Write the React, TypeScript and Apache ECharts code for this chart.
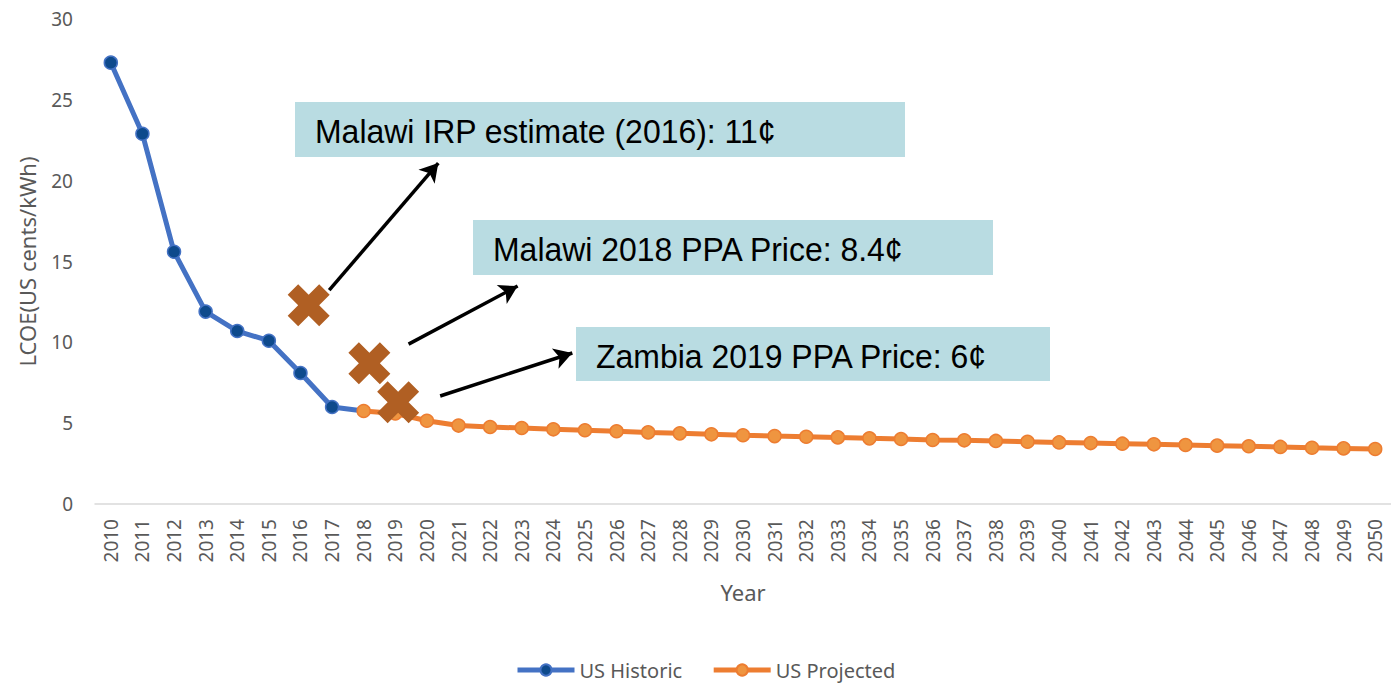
import React, { useEffect, useRef } from "react";
import * as echarts from "echarts";

const years: string[] = [];
for (let y = 2010; y <= 2050; y++) years.push(String(y));

const historic: number[] = [27.3, 22.9, 15.6, 11.9, 10.7, 10.1, 8.1, 6.0, 5.75];
const projected: number[] = [
  5.75, 5.6, 5.15, 4.85, 4.76, 4.7, 4.62, 4.56, 4.5, 4.43, 4.37, 4.31, 4.25, 4.2, 4.16, 4.12,
  4.06, 4.02, 3.96, 3.94, 3.9, 3.85, 3.81, 3.77, 3.73, 3.69, 3.65, 3.61, 3.57, 3.53, 3.48,
  3.44, 3.4,
];
// PPA / estimate markers: [fractional year, cents]
const priceMarks: [number, number][] = [
  [2016.26, 12.3],
  [2018.18, 8.7],
  [2019.09, 6.3],
];
// arrows: [fromYear, fromValue, toYear, toValue]
const arrows: [number, number, number, number][] = [
  [2016.91, 13.23, 2020.36, 21.09],
  [2019.42, 9.89, 2022.87, 13.48],
  [2020.42, 6.68, 2024.6, 9.34],
];
const annotationTexts = [
  "Malawi IRP estimate (2016): 11¢",
  "Malawi 2018 PPA Price: 8.4¢",
  "Zambia 2019 PPA Price: 6¢",
];

const X_PATH =
  "path://M0,2.5 L2.5,0 L5,2.5 L7.5,0 L10,2.5 L7.5,5 L10,7.5 L7.5,10 L5,7.5 L2.5,10 L0,7.5 L2.5,5 Z";

export default function App() {
  const ref = useRef<HTMLDivElement>(null);
  useEffect(() => {
    document.body.style.margin = "0";
    if (!ref.current) return;
    const chart = echarts.init(ref.current, null, { renderer: "svg" });
    const histData = years.map((_, i) =>
      i < historic.length
        ? i === historic.length - 1
          ? { value: historic[i], symbol: "none" }
          : historic[i]
        : null
    );
    const projData = years.map((_, i) => (i >= 8 ? projected[i - 8] : null));
    const boxes = [
      { left: 295, top: 102, width: 610, height: 55 },
      { left: 473, top: 220, width: 520, height: 55 },
      { left: 576, top: 327, width: 474, height: 54 },
    ];
    const font = "'Noto Sans', sans-serif";
    chart.setOption({
      animation: false,
      grid: { left: 95, right: -10, top: 19, height: 485 },
      legend: {
        data: ["US Historic", "US Projected"],
        left: 510,
        top: 655,
        itemWidth: 57,
        itemHeight: 14,
        itemGap: 29,
        lineStyle: { width: 5 },
        textStyle: { color: "#595959", fontSize: 20, fontFamily: font },
      },
      xAxis: [
        {
          type: "category",
          data: years,
          boundaryGap: true,
          axisLine: { lineStyle: { color: "#d9d9d9", width: 1.5 } },
          axisTick: { show: false },
          axisLabel: {
            rotate: 90,
            color: "#595959",
            fontSize: 19,
            fontFamily: font,
            margin: 15,
            interval: 0,
          },
          name: "Year",
          nameLocation: "middle",
          nameGap: 77,
          nameTextStyle: { color: "#595959", fontSize: 22, fontFamily: font },
        },
        { type: "value", min: 2009.5, max: 2050.5, show: false },
      ],
      yAxis: {
        type: "value",
        min: 0,
        max: 30,
        interval: 5,
        splitLine: { show: false },
        axisLine: { show: false },
        axisTick: { show: false },
        axisLabel: { color: "#595959", fontSize: 19, fontFamily: font, margin: 22 },
        name: "LCOE(US cents/kWh)",
        nameLocation: "middle",
        nameGap: 57,
        nameTextStyle: { color: "#595959", fontSize: 22, fontFamily: font },
      },
      series: [
        {
          name: "US Historic",
          type: "line",
          data: histData,
          symbol: "circle",
          symbolSize: 13,
          lineStyle: { color: "#4472c4", width: 5 },
          itemStyle: { color: "#0e4a8c", borderColor: "#4472c4", borderWidth: 1.5 },
          z: 2,
        },
        {
          name: "US Projected",
          type: "line",
          data: projData,
          symbol: "circle",
          symbolSize: 13,
          lineStyle: { color: "#ed7d31", width: 5 },
          itemStyle: { color: "#ef9540", borderColor: "#ed7d31", borderWidth: 1.5 },
          z: 3,
        },
        {
          name: "marks",
          type: "scatter",
          xAxisIndex: 1,
          data: priceMarks,
          symbol: X_PATH,
          symbolSize: 42,
          itemStyle: { color: "#b05f23", opacity: 1 },
          z: 5,
          markLine: {
            silent: true,
            symbol: ["none", "arrow"],
            symbolSize: [16, 18],
            label: { show: false },
            lineStyle: { color: "#000", width: 3.5, type: "solid", opacity: 1 },
            data: arrows.map((a) => [
              { coord: [a[0], a[1]] },
              { coord: [a[2], a[3]] },
            ]),
          },
        },
      ],
      graphic: boxes.flatMap((b, i) => [
        {
          type: "rect",
          left: b.left,
          top: b.top,
          shape: { width: b.width, height: b.height },
          style: { fill: "#b9dce2" },
          z: 10,
        },
        {
          type: "text",
          x: b.left + 20,
          y: b.top + b.height / 2 + 2,
          scaleX: 0.94,
          style: {
            text: annotationTexts[i],
            fontSize: 34,
            fontFamily: "'Liberation Sans', Arial, sans-serif",
            fill: "#000",
            verticalAlign: "middle",
          },
          z: 11,
        },
      ]),
    });
    return () => chart.dispose();
  }, []);
  return <div ref={ref} style={{ width: 1391, height: 683 }} />;
}
